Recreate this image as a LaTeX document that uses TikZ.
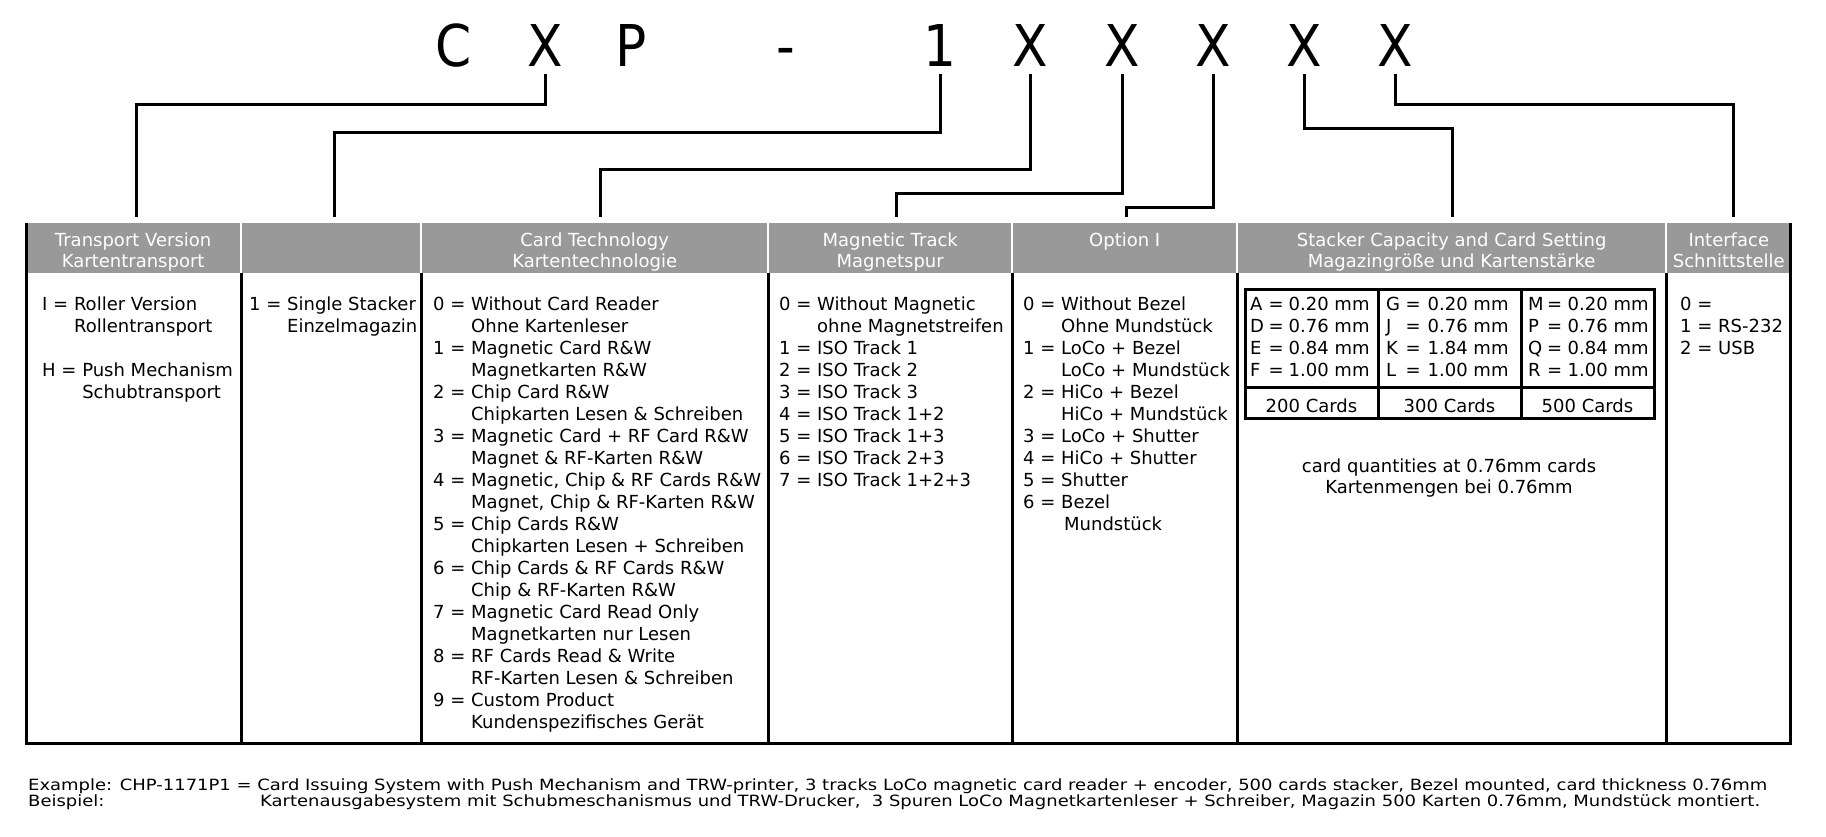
\documentclass[tikz,border=0pt]{standalone}
\usepackage{fontspec}
\setmainfont{DejaVu Sans}
\newfontfamily\exfont[FakeStretch=1.16]{DejaVu Sans}
\newfontfamily\ttlfont[FakeStretch=0.9]{DejaVu Sans}
\definecolor{hdrgray}{RGB}{153,153,153}
\newcommand\bodyfs{\fontsize{18}{22}\selectfont}
\newcommand\mmrow[4]{\makebox[#1][l]{#2}\makebox[#3][l]{=}#4 mm}
\begin{document}
\begin{tikzpicture}[x=1pt,y=-1pt,
  conn/.style={line width=3pt},
  rule/.style={line width=3pt},
  hcell/.style={fill=hdrgray, draw=none, inner sep=0pt, minimum height=50pt, anchor=north west},
  htext/.style={text=white, font=\bodyfs, inner sep=0pt, anchor=base},
  txt/.style={font=\bodyfs, inner sep=0pt, anchor=base west},
  ctxt/.style={font=\bodyfs, inner sep=0pt, anchor=base},
  ex/.style={font=\exfont\fontsize{15.5}{16}\selectfont, inner sep=0pt, anchor=base west},
  ttl/.style={font=\ttlfont\fontsize{57.6}{60}\selectfont, inner sep=0pt, anchor=base, text depth=0pt},
]
\useasboundingbox (0,0) rectangle (1826,837);

% ---- title ----
\node[ttl] (tC) at (454,67) {C};
\node[ttl] (tX) at (545,67) {X};
\node[ttl] (tP) at (631,67) {P};
\node[ttl] (tD) at (786,67) {-};
\node[ttl] (t1) at (940,67) {1};
\node[ttl] (x1) at (1030,67) {X};
\node[ttl] (x2) at (1122,67) {X};
\node[ttl] (x3) at (1213,67) {X};
\node[ttl] (x4) at (1304,67) {X};
\node[ttl] (x5) at (1395,67) {X};

% ---- header cells ----
\node[hcell, minimum width=213.9pt] (h1) at (26,223) {};
\node[hcell, minimum width=177.7pt] (h2) at (242.15,223) {};
\node[hcell, minimum width=344.7pt] (h3) at (422.15,223) {};
\node[hcell, minimum width=241.7pt] (h4) at (769.15,223) {};
\node[hcell, minimum width=222.7pt] (h5) at (1013.15,223) {};
\node[hcell, minimum width=426.7pt] (h6) at (1238.15,223) {};
\node[hcell, minimum width=122.85pt] (h7) at (1667.15,223) {};

\node[htext] (h1a) at (h1.north |- 0,247) {Transport Version};
\node[htext] (h1b) at (h1.north |- 0,267) {Kartentransport};
\node[htext] (h3a) at (h3.north |- 0,247) {Card Technology};
\node[htext] (h3b) at (h3.north |- 0,267) {Kartentechnologie};
\node[htext] (h4a) at (h4.north |- 0,247) {Magnetic Track};
\node[htext] (h4b) at (h4.north |- 0,267) {Magnetspur};
\node[htext] (h5a) at (h5.north |- 0,247) {Option I};
\node[htext] (h6a) at (h6.north |- 0,247) {Stacker Capacity and Card Setting};
\node[htext] (h6b) at (h6.north |- 0,267) {Magazingröße und Kartenstärke};
\node[htext] (h7a) at (h7.north |- 0,247) {Interface};
\node[htext] (h7b) at (h7.north |- 0,267) {Schnittstelle};

% ---- connectors ----
\draw[conn] ([yshift=-7pt]tX.south) -- ++(0,30)  -| ([xshift=3pt,yshift=6pt]h1.north);
\draw[conn] ([yshift=-7pt]t1.south) -- ++(0,58)  -| ([xshift=3pt,yshift=6pt]h2.north);
\draw[conn] ([yshift=-7pt]x1.south) -- ++(0,95)  -| ([xshift=5.5pt,yshift=6pt]h3.north);
\draw[conn] ([yshift=-7pt]x2.south) -- ++(0,119) -| ([xshift=6pt,yshift=6pt]h4.north);
\draw[conn] ([yshift=-7pt]x3.south) -- ++(0,133) -| ([xshift=1.5pt,yshift=6pt]h5.north);
\draw[conn] ([yshift=-7pt]x4.south) -- ++(0,54)  -| ([xshift=0.5pt,yshift=6pt]h6.north);
\draw[conn] ([yshift=-7pt]x5.south) -- ++(0,30)  -| ([xshift=4.5pt,yshift=6pt]h7.north);

% ---- table frame ----
\draw[rule] (26,223) -- (26,743) -- (1790,743) -- (1790,223);
\foreach \d in {241,421,768,1012,1237,1666}
  \draw[rule] (\d,273) -- (\d,743);

% ---- column 1 ----
\node[txt] (tv0) at (42,310) {I = Roller Version};
\node[txt] (tv1) at (42,332) {\phantom{I = }Rollentransport};
\node[txt] (tv3) at (42,376) {H = Push Mechanism};
\node[txt] (tv4) at (42,398) {\phantom{H = }Schubtransport};

% ---- column 2 ----
\node[txt] (ss0) at (249,310) {1 = Single Stacker};
\node[txt] (ss1) at (249,332) {\phantom{1 = }Einzelmagazin};

% ---- column 3 ----
\foreach \t [count=\i from 0] in {
 {0 = Without Card Reader},{\phantom{0 = }Ohne Kartenleser},
 {1 = Magnetic Card R\&W},{\phantom{1 = }Magnetkarten R\&W},
 {2 = Chip Card R\&W},{\phantom{2 = }Chipkarten Lesen \& Schreiben},
 {3 = Magnetic Card + RF Card R\&W},{\phantom{3 = }Magnet \& RF-Karten R\&W},
 {4 = Magnetic, Chip \& RF Cards R\&W},{\phantom{4 = }Magnet, Chip \& RF-Karten R\&W},
 {5 = Chip Cards R\&W},{\phantom{5 = }Chipkarten Lesen + Schreiben},
 {6 = Chip Cards \& RF Cards R\&W},{\phantom{6 = }Chip \& RF-Karten R\&W},
 {7 = Magnetic Card Read Only},{\phantom{7 = }Magnetkarten nur Lesen},
 {8 = RF Cards Read \& Write},{\phantom{8 = }RF-Karten Lesen \& Schreiben},
 {9 = Custom Product},{\phantom{9 = }Kundenspezifisches Gerät}}
  \node[txt] (ct\i) at (433,310+22.05*\i) {\t};

% ---- column 4 ----
\foreach \t [count=\i from 0] in {
 {0 = Without Magnetic},{\phantom{0 = }ohne Magnetstreifen},
 {1 = ISO Track 1},{2 = ISO Track 2},{3 = ISO Track 3},
 {4 = ISO Track 1+2},{5 = ISO Track 1+3},{6 = ISO Track 2+3},{7 = ISO Track 1+2+3}}
  \node[txt] (mt\i) at (779,310+22.05*\i) {\t};

% ---- column 5 ----
\foreach \t [count=\i from 0] in {
 {0 = Without Bezel},{\phantom{0 = }Ohne Mundstück},
 {1 = LoCo + Bezel},{\phantom{1 = }LoCo + Mundstück},
 {2 = HiCo + Bezel},{\phantom{2 = }HiCo + Mundstück},
 {3 = LoCo + Shutter},{4 = HiCo + Shutter},{5 = Shutter},
 {6 = Bezel},{\phantom{6 = }\,Mundstück}}
  \node[txt] (op\i) at (1023,310+22.05*\i) {\t};

% ---- column 6 : stacker table ----
\draw[rule] (1245,289) rectangle (1654,418);
\draw[rule] (1245,387) -- (1654,387);
\draw[rule] (1378,289) -- (1378,418);
\draw[rule] (1521,289) -- (1521,418);
\foreach \l/\v [count=\i from 0] in {A/0.20,D/0.76,E/0.84,F/1.00}
  \node[txt] (sa\i) at (1250,310+22*\i) {\mmrow{18.5pt}{\l}{20pt}{\v}};
\foreach \l/\v [count=\i from 0] in {G/0.20,J/0.76,K/1.84,L/1.00}
  \node[txt] (sb\i) at (1386,310+22*\i) {\mmrow{19.5pt}{\l}{22pt}{\v}};
\foreach \l/\v [count=\i from 0] in {M/0.20,P/0.76,Q/0.84,R/1.00}
  \node[txt] (sc\i) at (1528,310+22*\i) {\mmrow{19pt}{\l}{20.5pt}{\v}};
\node[ctxt] (ca) at (1311.5,412) {200 Cards};
\node[ctxt] (cb) at (1449.5,412) {300 Cards};
\node[ctxt] (cc) at (1587.5,412) {500 Cards};
\node[ctxt] (q1) at (1449,472) {card quantities at 0.76mm cards};
\node[ctxt] (q2) at (1449,493) {Kartenmengen bei 0.76mm};

% ---- column 7 ----
\node[txt] (if0) at (1680,310) {0 =};
\node[txt] (if1) at (1680,332) {1 = RS-232};
\node[txt] (if2) at (1680,354) {2 = USB};

% ---- example ----
\node[ex] (e1) at (28,790) {Example: CHP-1171P1 = Card Issuing System with Push Mechanism and TRW-printer, 3 tracks LoCo magnetic card reader + encoder, 500 cards stacker, Bezel mounted, card thickness 0.76mm};
\node[ex] (e2) at (28,806) {Beispiel:};
\node[ex] (e3) at (260,806) {Kartenausgabesystem mit Schubmeschanismus und TRW-Drucker,~ 3 Spuren LoCo Magnetkartenleser + Schreiber, Magazin 500 Karten 0.76mm, Mundstück montiert.};
\end{tikzpicture}
\end{document}
